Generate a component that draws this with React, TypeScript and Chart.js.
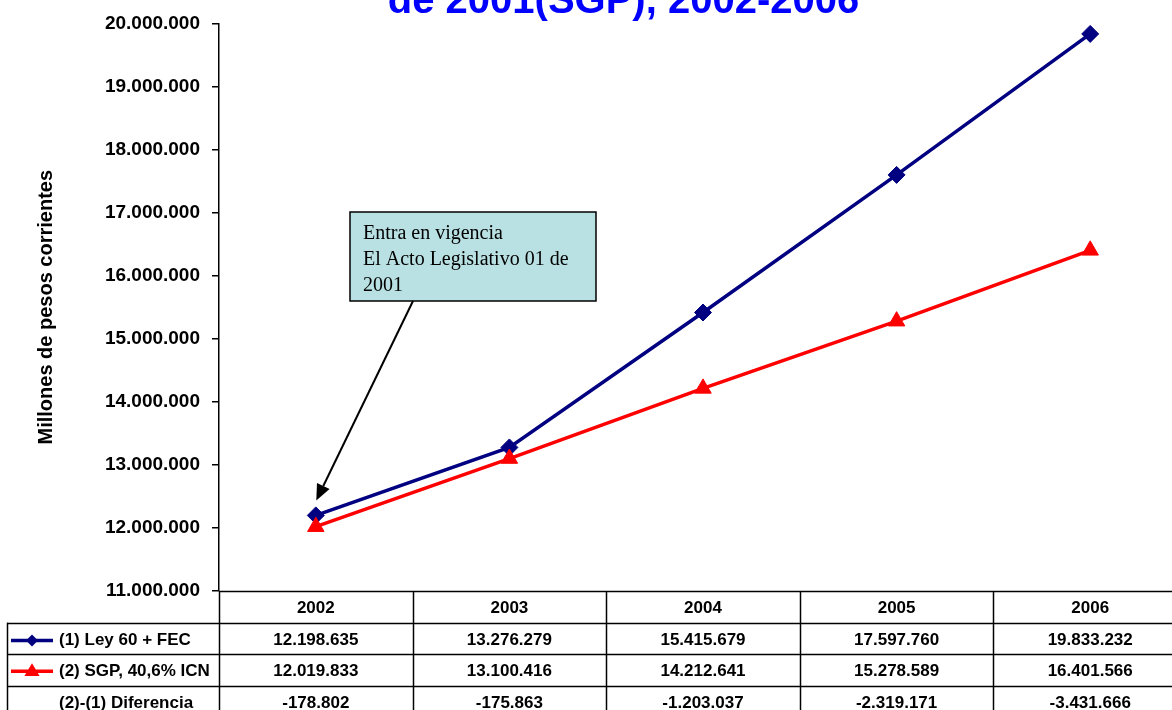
import React, { useEffect, useRef } from 'react';
import { Chart, registerables } from 'chart.js';

Chart.register(...registerables);

// ---- data ----
const years = ['2002', '2003', '2004', '2005', '2006'];
const ley60 = [12198635, 13276279, 15415679, 17597760, 19833232];
const sgp = [12019833, 13100416, 14212641, 15278589, 16401566];
const diferencia = [-178802, -175863, -1203037, -2319171, -3431666];
const seriesNames = ['(1) Ley 60 + FEC', '(2) SGP, 40,6% ICN', '(2)-(1) Diferencia'];
const titleText = 'de 2001(SGP), 2002-2006';
const yTitle = 'Millones de pesos corrientes';
const noteLines = ['Entra en vigencia', 'El Acto Legislativo 01 de', '2001'];
const yMin = 11000000;
const yMax = 20000000;
const yStep = 1000000;

const NAVY = '#000080';
const RED = '#FF0000';
const SANS = 'Arial, "Liberation Sans", sans-serif';

function fmt(n: number): string {
  const s = Math.abs(Math.round(n)).toString().replace(/\B(?=(\d{3})+(?!\d))/g, '.');
  return (n < 0 ? '-' : '') + s;
}

function drawDiamond(ctx: CanvasRenderingContext2D, x: number, y: number, r: number, color: string) {
  ctx.beginPath();
  ctx.moveTo(x, y - r);
  ctx.lineTo(x + r, y);
  ctx.lineTo(x, y + r);
  ctx.lineTo(x - r, y);
  ctx.closePath();
  ctx.fillStyle = color;
  ctx.fill();
}

function drawTriangle(ctx: CanvasRenderingContext2D, x: number, y: number, r: number, color: string) {
  ctx.beginPath();
  ctx.moveTo(x, y - r);
  ctx.lineTo(x + r * 0.95, y + r * 0.6);
  ctx.lineTo(x - r * 0.95, y + r * 0.6);
  ctx.closePath();
  ctx.fillStyle = color;
  ctx.fill();
}

const titlePlugin = {
  id: 'topTitle',
  afterDraw(chart: any) {
    const ctx = chart.ctx as CanvasRenderingContext2D;
    ctx.save();
    ctx.font = `bold 40px ${SANS}`;
    ctx.fillStyle = '#0000FF';
    ctx.textAlign = 'center';
    ctx.textBaseline = 'alphabetic';
    ctx.fillText(titleText, 623.5, 12.5);
    ctx.restore();
  },
};

const notePlugin = {
  id: 'note',
  afterDraw(chart: any) {
    const ctx = chart.ctx as CanvasRenderingContext2D;
    const xs = chart.scales.x;
    const ys = chart.scales.y;
    ctx.save();
    const bx = 350, by = 212, bw = 246, bh = 89;
    ctx.fillStyle = '#B9E0E2';
    ctx.fillRect(bx, by, bw, bh);
    ctx.strokeStyle = '#000';
    ctx.lineWidth = 1.5;
    ctx.strokeRect(bx, by, bw, bh);
    ctx.fillStyle = '#000';
    ctx.font = '20px "Liberation Serif", "Times New Roman", serif';
    ctx.textAlign = 'left';
    ctx.textBaseline = 'alphabetic';
    noteLines.forEach((t, i) => ctx.fillText(t, 363, 239 + i * 26));
    // arrow
    const sx = 413, sy = by + bh;
    const tx = xs.getPixelForValue(0) + 0.5;
    const ty = ys.getPixelForValue(ley60[0]) - 15;
    const ang = Math.atan2(ty - sy, tx - sx);
    const hl = 16, hw = 7;
    const bxp = tx - Math.cos(ang) * hl;
    const byp = ty - Math.sin(ang) * hl;
    ctx.strokeStyle = '#000';
    ctx.lineWidth = 2;
    ctx.beginPath();
    ctx.moveTo(sx, sy);
    ctx.lineTo(bxp, byp);
    ctx.stroke();
    ctx.beginPath();
    ctx.moveTo(tx, ty);
    ctx.lineTo(bxp + Math.sin(ang) * hw, byp - Math.cos(ang) * hw);
    ctx.lineTo(bxp - Math.sin(ang) * hw, byp + Math.cos(ang) * hw);
    ctx.closePath();
    ctx.fillStyle = '#000';
    ctx.fill();
    ctx.restore();
  },
};

const tablePlugin = {
  id: 'dataTable',
  afterDraw(chart: any) {
    const ctx = chart.ctx as CanvasRenderingContext2D;
    const area = chart.chartArea;
    const xs = chart.scales.x;
    const left = area.left;
    const right = area.right;
    const top = area.bottom;
    const rowH = 31.7;
    const colW = (right - left) / years.length;
    const tableLeft = 7;
    ctx.save();
    ctx.strokeStyle = '#000';
    ctx.lineWidth = 1.5;
    for (let r = 0; r <= 4; r++) {
      const y = Math.round(top + r * rowH) + 0.5;
      ctx.beginPath();
      ctx.moveTo(r === 0 ? left : tableLeft, y);
      ctx.lineTo(right, y);
      ctx.stroke();
    }
    for (let c = 0; c <= years.length; c++) {
      const xx = Math.round(left + c * colW) + 0.5;
      ctx.beginPath();
      ctx.moveTo(xx, top);
      ctx.lineTo(xx, top + 4 * rowH);
      ctx.stroke();
    }
    ctx.beginPath();
    ctx.moveTo(tableLeft + 0.5, top + rowH);
    ctx.lineTo(tableLeft + 0.5, top + 4 * rowH);
    ctx.stroke();

    ctx.fillStyle = '#000';
    ctx.font = `bold 17px ${SANS}`;
    ctx.textAlign = 'center';
    ctx.textBaseline = 'middle';
    years.forEach((yr, i) => {
      const cx = xs.getPixelForValue(i);
      ctx.fillText(yr, cx, top + rowH * 0.5 + 1);
      ctx.fillText(fmt(ley60[i]), cx, top + rowH * 1.5 + 2);
      ctx.fillText(fmt(sgp[i]), cx, top + rowH * 2.5 + 1);
      ctx.fillText(fmt(diferencia[i]), cx, top + rowH * 3.5 + 1);
    });

    ctx.textAlign = 'left';
    const rows = [top + rowH * 1.5 + 2, top + rowH * 2.5 + 1, top + rowH * 3.5 + 1];
    seriesNames.forEach((name, i) => ctx.fillText(name, 59, rows[i]));
    // legend keys
    ctx.lineWidth = 3.5;
    ctx.strokeStyle = NAVY;
    ctx.beginPath();
    ctx.moveTo(11, rows[0]);
    ctx.lineTo(53, rows[0]);
    ctx.stroke();
    drawDiamond(ctx, 32, rows[0], 6, NAVY);
    ctx.strokeStyle = RED;
    ctx.beginPath();
    ctx.moveTo(11, rows[1]);
    ctx.lineTo(53, rows[1]);
    ctx.stroke();
    drawTriangle(ctx, 32, rows[1], 8, RED);
    ctx.restore();
  },
};

export default function App() {
  const ref = useRef<HTMLCanvasElement | null>(null);

  useEffect(() => {
    if (!ref.current) return;
    Chart.defaults.font.family = SANS;
    const chart = new Chart(ref.current, {
      type: 'line',
      data: {
        labels: years,
        datasets: [
          {
            label: seriesNames[0],
            data: ley60,
            borderColor: NAVY,
            backgroundColor: NAVY,
            borderWidth: 3.5,
            pointStyle: 'rectRot',
            pointRadius: 8.5,
            pointBorderWidth: 1,
            pointBackgroundColor: NAVY,
            pointBorderColor: NAVY,
            order: 1,
          },
          {
            label: seriesNames[1],
            data: sgp,
            borderColor: RED,
            backgroundColor: RED,
            borderWidth: 3.5,
            pointStyle: 'triangle',
            pointRadius: 9.5,
            pointBorderWidth: 1,
            pointBackgroundColor: RED,
            pointBorderColor: RED,
            order: 0,
          },
        ],
      },
      options: {
        responsive: false,
        animation: false,
        layout: { padding: { top: 21.5, right: 63, bottom: 11, left: 0 } },
        plugins: {
          legend: { display: false },
          title: { display: false },
          tooltip: { enabled: false },
        },
        scales: {
          x: {
            type: 'category',
            offset: true,
            grid: { display: false },
            border: { display: false },
            ticks: { display: false },
            afterFit: (s: any) => {
              s.height = 128;
            },
          },
          y: {
            min: yMin,
            max: yMax,
            ticks: {
              stepSize: yStep,
              callback: (v: any) => fmt(Number(v)),
              font: { size: 19, weight: 'bold' },
              color: '#000',
              padding: 12,
            },
            grid: {
              drawOnChartArea: false,
              drawTicks: true,
              tickLength: 7,
              color: '#000',
              lineWidth: 1.5,
            },
            border: { display: true, color: '#000', width: 1.5 },
            title: {
              display: true,
              text: yTitle,
              font: { size: 20, weight: 'bold' },
              color: '#000',
              padding: { top: 34, bottom: 0 },
            },
            afterFit: (s: any) => {
              s.width = 219;
            },
          },
        },
      },
      plugins: [tablePlugin, notePlugin, titlePlugin],
    } as any);
    return () => chart.destroy();
  }, []);

  return (
    <div style={{ position: 'fixed', left: 0, top: 0, width: '100vw', height: '100vh', overflow: 'hidden', background: '#fff' }}>
      <canvas
        ref={ref}
        width={1250}
        height={730}
        style={{ position: 'absolute', left: 0, top: 0, width: 1250, height: 730 }}
      />
    </div>
  );
}
